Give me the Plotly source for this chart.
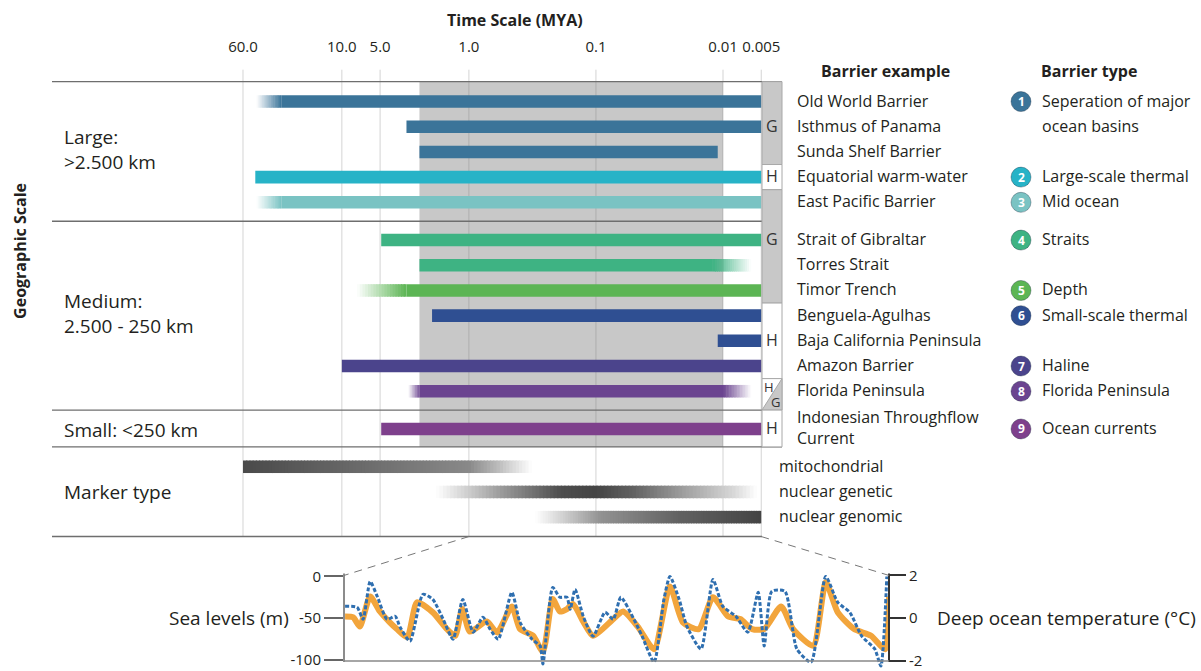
import numpy as np
import plotly.graph_objects as go

W, H = 1201, 671
FONT = "Open Sans"
INK = "#231f20"

# ---------------- time axis (million years ago, log scale) ----------------
time_ticks = [60, 10, 5, 1, 0.1, 0.01, 0.005]
time_tick_text = ["60.0", "10.0", "5.0", "1.0", "0.1", "0.01", "0.005"]
shaded_span_mya = [2.45, 0.01]

# ---------------- barriers ----------------
barrier_names = ["Old World Barrier", "Isthmus of Panama", "Sunda Shelf Barrier",
                 "Equatorial warm-water", "East Pacific Barrier", "Strait of Gibraltar",
                 "Torres Strait", "Timor Trench", "Benguela-Agulhas",
                 "Baja California Peninsula", "Amazon Barrier", "Florida Peninsula",
                 "Indonesian Throughflow<br>Current"]
barrier_type = [1, 1, 1, 2, 3, 4, 4, 5, 6, 6, 7, 8, 9]
onset_mya = [30, 3.1, 2.45, 48, 30, 4.9, 2.45, 3.1, 1.95, 0.011, 10.0, 2.45, 4.9]
end_mya = [0.005, 0.005, 0.011, 0.005, 0.005, 0.005, 0.012, 0.005, 0.005, 0.005, 0.005, 0.01, 0.005]
onset_uncertain_from = [47, None, None, None, 47, None, None, 7.6, None, None, None, 3.0, None]
end_uncertain_to = [None, None, None, None, None, None, 0.006, None, None, None, None, 0.006, None]
mechanism = ["G", "G", "G", "H", "G", "G", "G", "G", "H", "H", "H", "H/G", "H"]

# ---------------- barrier types ----------------
type_labels = ["Seperation of major|ocean basins", "Large-scale thermal", "Mid ocean", "Straits",
               "Depth", "Small-scale thermal", "Haline", "Florida Peninsula", "Ocean currents"]
type_colors = ["#3b7499", "#27b3c7", "#7ac3c3", "#3eb383", "#5cb554",
               "#2f4f92", "#4b448c", "#6b4490", "#7e408c"]

# ---------------- geographic scale groups ----------------
scale_labels = ["Large:<br>>2.500 km", "Medium:<br>2.500 - 250 km", "Small: <250 km"]
scale_rows = [[0, 4], [5, 11], [12, 12]]

# ---------------- molecular markers (age, weight profiles) ----------------
marker_names = ["mitochondrial", "nuclear genetic", "nuclear genomic"]
marker_age = [[60, 10, 1.0, 0.6, 0.32],
              [1.82, 0.57, 0.19, 0.1, 0.051, 0.021, 0.0083, 0.0054],
              [0.30, 0.093, 0.022, 0.005]]
marker_weight = [[0.92, 0.78, 0.6, 0.35, 0.0],
                 [0.0, 0.5, 0.9, 0.95, 0.8, 0.5, 0.2, 0.0],
                 [0.0, 0.55, 0.8, 0.95]]

# ---------------- last 1 Myr climate record (ka) ----------------
temp_ka = [998, 976, 965, 952, 939, 921, 906, 897, 879, 855,
           837, 818, 800, 782, 763, 745, 732, 717, 692, 677,
           655, 640, 635, 617, 604, 591, 585, 576, 561, 543,
           521, 506, 492, 468, 453, 431, 413, 402, 385, 371,
           345, 323, 305, 281, 259, 240, 229, 215, 191, 169,
           143, 116, 94, 72, 50, 26, 15, 4]
deep_temp_c = [0.56, 0.51, -0.05, 1.72, 1.02, -0.05, 0.09, -0.42, -1.07, 1.12,
               0.88, -0.05, -0.98, 0.88, -0.65, 0.05, -0.51, -0.98, 1.21, -0.19,
               -0.98, -1.30, -2.14, 1.44, 0.98, 0.98, 0.42, 1.35, 0.09, -0.84,
               0.28, -0.05, 0.98, -0.05, -0.84, -2.05, 0.88, 1.95, 0.88, -0.37,
               -1.44, 1.81, 0.56, 0.09, -0.65, 1.21, -1.30, 1.26, 1.26, -1.44,
               -2.05, 1.95, 0.74, 0.28, -0.84, -1.44, -2.23, 1.95]
sea_ka = [998, 983, 971, 952, 934, 916, 903, 884, 866, 837,
          811, 796, 783, 769, 738, 719, 692, 677, 653, 635,
          617, 604, 591, 580, 561, 543, 506, 488, 461, 431,
          402, 378, 349, 323, 295, 273, 251, 229, 198, 176,
          139, 116, 94, 64, 33, 7, 0]
sea_level_m = [-48, -49, -60, -24, -42, -55, -63, -73, -31, -43,
               -63, -71, -39, -66, -54, -67, -36, -63, -71, -90,
               -27, -42, -39, -33, -54, -71, -51, -42, -60, -87,
               -12, -55, -63, -25, -48, -51, -63, -63, -36, -63,
               -83, -7, -43, -63, -71, -87, -24]

# ---------------- geometry ----------------
LOG_LEFT, LOG_RIGHT = 3.6907, -5.7623       # main time axis spans the full width
ROW_TOP, ROW_PITCH = 100.0, 25.3
barrier_slot = [0, 1, 2, 3, 4, 5.5, 6.5, 7.5, 8.5, 9.5, 10.5, 11.5, 13]
marker_slot = [14.5, 15.5, 16.5]
BAR_HALF = 6.3
COL_L, COL_R = 762, 782
PANEL_L = 52
SHADE = "#c8c8c8"


def row_y(slot):
    return ROW_TOP + ROW_PITCH * slot


def px_of(mya):
    return (LOG_LEFT - np.log10(mya)) / (LOG_LEFT - LOG_RIGHT) * W


def PX(px):
    return px / W


def PY(py):
    return 1 - py / H


def hex_rgb(c):
    h = c.lstrip("#")
    return np.array([int(h[0:2], 16), int(h[2:4], 16), int(h[4:6], 16)], dtype=float)


def blend(c, a, bg="#ffffff"):
    v = a * hex_rgb(c) + (1 - a) * hex_rgb(bg)
    return "rgb(%d,%d,%d)" % tuple(np.round(v).astype(int))


fig = go.Figure()
shapes = []


def data_rect(x0, x1, y0, y1, fill):
    shapes.append(dict(type="rect", xref="x", yref="y", x0=x0, x1=x1, y0=y0, y1=y1,
                       fillcolor=fill, line=dict(width=0), layer="above"))


def graded_bar(ages, weights, y, color, n, shaded_ok):
    """Bar whose colour strength follows a weight profile along the (log) time axis."""
    ages = np.asarray(ages, dtype=float)
    edges = np.logspace(np.log10(ages[0]), np.log10(ages[-1]), n + 1)
    mids = np.sqrt(edges[:-1] * edges[1:])
    a = np.interp(-np.log10(mids), -np.log10(ages), np.asarray(weights, dtype=float))
    for k in range(n):
        inside = shaded_ok and shaded_span_mya[1] <= mids[k] <= shaded_span_mya[0]
        bg = SHADE if inside else "#ffffff"
        x1 = edges[k + 1] if k == n - 1 else edges[k + 1] * (edges[k + 1] / edges[k]) ** 0.35
        data_rect(edges[k], x1, y - BAR_HALF, y + BAR_HALF, blend(color, a[k], bg))


def hline(py, x0, x1, color="#6e6e6e", width=1.4):
    shapes.append(dict(type="line", xref="paper", yref="y", x0=PX(x0), x1=PX(x1), y0=py, y1=py,
                       line=dict(color=color, width=width)))


def label(text, px, py, size=16, xanchor="left", color=INK, bold=False, angle=0):
    fig.add_annotation(x=PX(px), y=PY(py), xref="paper", yref="paper",
                       text=f"<b>{text}</b>" if bold else text, showarrow=False,
                       xanchor=xanchor, yanchor="middle", textangle=angle, align="left",
                       font=dict(family=FONT, size=size, color=color))


# shaded time band
top_line = row_y(0) - 20
bottom_barrier = row_y(barrier_slot[-1]) + 18
data_rect(shaded_span_mya[0], shaded_span_mya[1], top_line, bottom_barrier, SHADE)

# vertical gridlines at the time ticks
grid_bottom = row_y(marker_slot[-1]) + 19.5
for t in time_ticks:
    shapes.append(dict(type="line", xref="x", yref="y", x0=t, x1=t, y0=68, y1=grid_bottom,
                       line=dict(color="rgba(120,120,120,0.32)", width=1)))

# barrier bars with uncertain (faded) ends
for i in range(len(barrier_names)):
    y = row_y(barrier_slot[i])
    col = type_colors[barrier_type[i] - 1]
    if onset_uncertain_from[i] is not None:
        graded_bar([onset_uncertain_from[i], onset_mya[i]], [0.0, 1.0], y, col, 18, True)
    if end_uncertain_to[i] is not None:
        graded_bar([end_mya[i], end_uncertain_to[i]], [1.0, 0.0], y, col, 18, True)
    data_rect(onset_mya[i], end_mya[i], y - BAR_HALF, y + BAR_HALF, col)

# marker bars: graded strength along time
for j in range(len(marker_names)):
    graded_bar(marker_age[j], marker_weight[j], row_y(marker_slot[j]), "#3a3a3a", 90, False)

# horizontal section rules
hline(top_line, PANEL_L, COL_R)
hline((row_y(4) + row_y(5.5)) / 2, PANEL_L, COL_L)
hline((row_y(11.5) + row_y(13)) / 2, PANEL_L, COL_R)
hline(bottom_barrier, PANEL_L, COL_R)
hline(grid_bottom, PANEL_L, COL_L)

# G / H mechanism column
bounds = [top_line]
for i in range(len(barrier_slot) - 1):
    bounds.append((row_y(barrier_slot[i]) + row_y(barrier_slot[i + 1])) / 2)
bounds.append(bottom_barrier)
blocks = []
for i, m in enumerate(mechanism):
    if blocks and blocks[-1][0] == m and m != "H/G":
        blocks[-1][2] = bounds[i + 1]
    else:
        blocks.append([m, bounds[i], bounds[i + 1]])
for m, y0, y1 in blocks:
    fill = SHADE if m == "G" else "white"
    shapes.append(dict(type="rect", xref="paper", yref="y", x0=PX(COL_L), x1=PX(COL_R), y0=y0, y1=y1,
                       fillcolor=fill, line=dict(color="#a8a8a8", width=1)))
    if m == "H/G":
        path = f"M {PX(COL_L)},{PY(y1)} L {PX(COL_R)},{PY(y0)} L {PX(COL_R)},{PY(y1)} Z"
        shapes.append(dict(type="path", xref="paper", yref="paper", path=path,
                           fillcolor=SHADE, line=dict(color="#a8a8a8", width=1)))
        label("H", COL_L, y0 + 8, size=13, color="#333")
        label("G", COL_R - 13, y1 - 8, size=13, color="#333")
    else:
        yc = (y0 + y1) / 2
        if m == "G" and y0 > top_line:
            yc = row_y(5.5)
        elif m == "G":
            yc = row_y(1)
        label(m, (COL_L + COL_R) / 2, yc - 1, size=16, xanchor="center", color="#333")

# barrier names
for i, name in enumerate(barrier_names):
    label(name, 795, row_y(barrier_slot[i]) - 1)

# barrier type legend
first_row = {}
for i, t in enumerate(barrier_type):
    first_row.setdefault(t, barrier_slot[i])
for t in range(1, len(type_labels) + 1):
    y = row_y(first_row[t])
    col = type_colors[t - 1]
    shapes.append(dict(type="circle", xref="paper", yref="paper", xsizemode="pixel", ysizemode="pixel",
                       xanchor=PX(1021), yanchor=PY(y), x0=-10, x1=10, y0=-10, y1=10,
                       fillcolor=col, line=dict(color="rgba(26,42,64,0.35)", width=1)))
    label(str(t), 1021, y, size=12, xanchor="center", color="white", bold=True)
    parts = type_labels[t - 1].split("|")
    label(parts[0], 1040, y - 1)
    if len(parts) > 1:
        label(parts[1], 1040, y - 1 + ROW_PITCH)

# marker names
for j, name in enumerate(marker_names):
    label(name, 777, row_y(marker_slot[j]) - 1)

# geographic scale labels
for k, txt in enumerate(scale_labels):
    r0, r1 = scale_rows[k]
    yc = (row_y(barrier_slot[r0]) + row_y(barrier_slot[r1])) / 2 - 2
    if r0 == r1:
        yc += 3
    label(txt, 62, yc, size=19)
label("Marker type", 62, row_y(marker_slot[1]), size=19)
label("Geographic Scale", 20, 250, size=16, xanchor="center", bold=True, angle=-90)

# headings
label("Time Scale (MYA)", 515, 18, size=16, xanchor="center", bold=True)
label("Barrier example", 885, 69, size=16, xanchor="center", bold=True)
label("Barrier type", 1089, 69, size=16, xanchor="center", bold=True)

# ---------------- inset: last million years ----------------
IN_L, IN_R = 344, 889
IN_TOP, IN_BOT = 567.4, 670.6
fig.add_trace(go.Scatter(x=sea_ka, y=sea_level_m, xaxis="x2", yaxis="y2", mode="lines",
                         line=dict(color="#f2a53c", width=6, shape="spline", smoothing=0.6),
                         hoverinfo="skip"))
fig.add_trace(go.Scatter(x=temp_ka, y=deep_temp_c, xaxis="x2", yaxis="y3", mode="lines",
                         line=dict(color="#2f6fb0", width=3, dash="4px,2px", shape="spline", smoothing=0.6),
                         hoverinfo="skip"))
# anchor trace for the main time axis
fig.add_trace(go.Scatter(x=[1], y=[300], mode="markers", marker=dict(opacity=0), hoverinfo="skip"))

# inset frame lines
shapes.append(dict(type="line", xref="paper", yref="paper", x0=PX(IN_L), x1=PX(IN_L), y0=PY(574), y1=PY(663),
                   line=dict(color="#666", width=1.5)))
shapes.append(dict(type="line", xref="paper", yref="paper", x0=PX(IN_R), x1=PX(IN_R), y0=PY(574), y1=PY(663),
                   line=dict(color="#333", width=2)))
shapes.append(dict(type="line", xref="paper", yref="paper", x0=PX(IN_L), x1=PX(IN_R), y0=PY(662), y1=PY(662),
                   line=dict(color="#888", width=1.5)))
# zoom connectors from the time axis to the inset
shapes.append(dict(type="line", xref="paper", yref="paper", x0=PX(px_of(1.0)), y0=PY(grid_bottom),
                   x1=PX(IN_L), y1=PY(576), line=dict(color="#777", width=1, dash="8px,6px")))
shapes.append(dict(type="line", xref="paper", yref="paper", x0=PX(px_of(0.005)), y0=PY(grid_bottom),
                   x1=PX(IN_R), y1=PY(576), line=dict(color="#777", width=1, dash="8px,6px")))

label("Sea levels (m)", 291, 619, size=19, xanchor="right")
label("Deep ocean temperature (°C)", 935, 619, size=19)

fig.update_layout(
    width=W, height=H, margin=dict(l=0, r=0, t=0, b=0),
    paper_bgcolor="white", plot_bgcolor="rgba(0,0,0,0)", showlegend=False,
    shapes=shapes,
    xaxis=dict(type="log", range=[LOG_LEFT, LOG_RIGHT], domain=[0, 1], side="top", anchor="y",
               tickmode="array", tickvals=time_ticks, ticktext=time_tick_text,
               ticks="outside", ticklen=3, tickcolor="rgba(0,0,0,0)",
               tickfont=dict(family=FONT, size=15, color=INK),
               showgrid=False, zeroline=False, showline=False, fixedrange=True),
    yaxis=dict(range=[H, 60], domain=[0, 1 - 60 / H], anchor="x", showticklabels=False,
               ticks="", showgrid=False, zeroline=False, showline=False, fixedrange=True),
    xaxis2=dict(domain=[PX(IN_L), PX(IN_R)], range=[1000, 0], anchor="y2", visible=False),
    yaxis2=dict(domain=[PY(IN_BOT), PY(IN_TOP)], range=[-111.4, 11.4], anchor="x2",
                tickmode="array", tickvals=[0, -50, -100], ticktext=["0", "-50", "-100"],
                ticks="outside", ticklen=19, tickwidth=1.5, tickcolor="#666",
                ticklabeloverflow="allow",
                tickfont=dict(family=FONT, size=15, color=INK),
                showgrid=False, zeroline=False, showline=False),
    yaxis3=dict(overlaying="y2", side="right", anchor="x2", range=[-2.4, 2.4],
                tickmode="array", tickvals=[2, 0, -2], ticktext=["2", "0", "-2"],
                ticks="outside", ticklen=16, tickwidth=1.5, tickcolor="#333",
                ticklabeloverflow="allow",
                tickfont=dict(family=FONT, size=15, color=INK),
                showgrid=False, zeroline=False, showline=False),
)

fig.write_html("out.html")
